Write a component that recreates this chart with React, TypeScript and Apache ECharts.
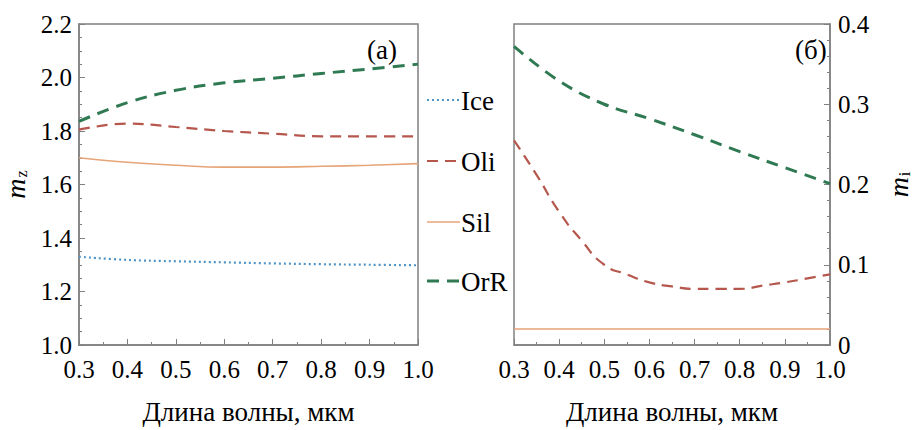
import React, { useEffect, useRef } from "react";
import * as echarts from "echarts";

const wl = [0.3, 0.4, 0.5, 0.6, 0.7, 0.8, 0.9, 1.0];
const wlFine = [0.3, 0.35, 0.4, 0.45, 0.5, 0.55, 0.6, 0.65, 0.7, 0.75, 0.8, 0.85, 0.9, 0.95, 1.0];

// Panel (a): real part m_z
const iceRe = [1.33, 1.318, 1.313, 1.309, 1.305, 1.302, 1.30, 1.298];
const oliRe = [1.805, 1.828, 1.815, 1.80, 1.79, 1.78, 1.78, 1.78];
const silRe = [1.70, 1.683, 1.672, 1.665, 1.665, 1.668, 1.672, 1.678];
const orrRe = [1.836, 1.906, 1.952, 1.98, 1.997, 2.015, 2.032, 2.05];

// Panel (б): imaginary part m_i
const oliIm = [0.255, 0.212, 0.166, 0.13, 0.10, 0.088, 0.078, 0.073, 0.070, 0.070, 0.070, 0.074, 0.078, 0.083, 0.088];
const silIm = [0.02, 0.02, 0.02, 0.02, 0.02, 0.02, 0.02, 0.02];
const orrIm = [0.372, 0.329, 0.30, 0.282, 0.262, 0.241, 0.221, 0.201];

const legendNames = ["Ice", "Oli", "Sil", "OrR"];
const yTicksLeft = { min: 1.0, max: 2.2, interval: 0.2 };
const yTicksRight = { min: 0, max: 0.4, interval: 0.1 };
const xTicks = { min: 0.3, max: 1.0, interval: 0.1 };

const FONT = '"Liberation Serif", "Times New Roman", serif';
const FS = 25;
const FS_BIG = 27;
const C_ICE = "#4f94c8";
const C_OLI = "#b5574c";
const C_SIL = "#e6a477";
const C_ORR = "#2f7a52";
const FRAME = "#808080";

const styles: Record<string, any> = {
  Ice: { color: C_ICE, width: 2.2, dash: [2, 3] },
  Oli: { color: C_OLI, width: 2.2, dash: [11, 7] },
  Sil: { color: C_SIL, width: 1.6, dash: null },
  OrR: { color: C_ORR, width: 3, dash: [12, 8] },
};

const pair = (xs: number[], ys: number[]) => xs.map((x, i) => [x, ys[i]]);

export default function App() {
  const ref = useRef<HTMLDivElement>(null);
  useEffect(() => {
    if (!ref.current) return;
    const chart = echarts.init(ref.current, null, { renderer: "svg" });
    const axisCommon = {
      axisLine: { show: true, onZero: false, lineStyle: { color: FRAME, width: 1.5 } },
      axisTick: { show: true, inside: true, length: 6, lineStyle: { color: FRAME } },
      minorTick: { show: true, length: 3, lineStyle: { color: FRAME } },
      splitLine: { show: false },
      axisLabel: { color: "#000", fontFamily: FONT, fontSize: FS },
    };
    const xAxis = (gi: number) => ({
      type: "value",
      gridIndex: gi,
      ...xTicks,
      ...axisCommon,
      minorTick: { ...axisCommon.minorTick, splitNumber: 2 },
      axisLabel: { ...axisCommon.axisLabel, margin: 12, formatter: (v: number) => v.toFixed(1) },
      name: "Длина волны, мкм",
      nameLocation: "middle",
      nameGap: 53,
      nameTextStyle: { color: "#000", fontFamily: FONT, fontSize: FS_BIG },
    });
    const nameRich = {
      m: { fontFamily: FONT, fontSize: 28, fontStyle: "italic", color: "#000" },
      s: { fontFamily: FONT, fontSize: 16, color: "#000", padding: [12, 0, 0, 1] },
    };
    const lineStyle = (n: string) => {
      const s = styles[n];
      return { color: s.color, width: s.width, type: s.dash || "solid" };
    };
    const legendGraphics: any[] = [];
    const legendY = [100, 161, 222, 281];
    legendNames.forEach((n, i) => {
      const s = styles[n];
      legendGraphics.push({
        type: "line",
        shape: { x1: 427, y1: legendY[i], x2: 460, y2: legendY[i] },
        style: { stroke: s.color, lineWidth: s.width, lineDash: s.dash || null },
      });
      legendGraphics.push({
        type: "text",
        x: 461,
        y: legendY[i] + 1,
        style: { text: n, font: `${FS_BIG}px ${FONT}`, fill: "#000", verticalAlign: "middle", align: "left" },
      });
    });
    const option: any = {
      animation: false,
      grid: [
        { left: 72, top: 24, width: 346, height: 342, show: true, borderColor: FRAME, borderWidth: 1.5 },
        { left: 514, top: 24, width: 333, height: 342, show: true, borderColor: FRAME, borderWidth: 1.5 },
      ],
      xAxis: [xAxis(0), xAxis(1)],
      yAxis: [
        {
          type: "value",
          gridIndex: 0,
          ...yTicksLeft,
          ...axisCommon,
          minorTick: { ...axisCommon.minorTick, splitNumber: 4 },
          axisLabel: { ...axisCommon.axisLabel, margin: 7, formatter: (v: number) => v.toFixed(1) },
          name: "{m|m}{s|z}",
          nameLocation: "middle",
          nameGap: 50,
          nameRotate: 90,
          nameTextStyle: { rich: nameRich },
        },
        {
          type: "value",
          gridIndex: 1,
          position: "right",
          ...yTicksRight,
          ...axisCommon,
          minorTick: { ...axisCommon.minorTick, splitNumber: 5 },
          axisLabel: { ...axisCommon.axisLabel, margin: 8, formatter: (v: number) => (v === 0 ? "0" : v.toFixed(1)) },
          name: "{m|m}{s|i}",
          nameLocation: "middle",
          nameGap: 54,
          nameRotate: 90,
          nameTextStyle: { rich: nameRich },
        },
      ],
      graphic: [
        { type: "text", x: 367, y: 50, style: { text: "(a)", font: `${FS_BIG}px ${FONT}`, fill: "#000", verticalAlign: "middle" } },
        { type: "text", x: 795, y: 50, style: { text: "(б)", font: `${FS_BIG}px ${FONT}`, fill: "#000", verticalAlign: "middle" } },
        ...legendGraphics,
      ],
      series: [
        { name: "Ice", type: "line", xAxisIndex: 0, yAxisIndex: 0, symbol: "none", smooth: 0.4, data: pair(wl, iceRe), lineStyle: lineStyle("Ice") },
        { name: "Oli", type: "line", xAxisIndex: 0, yAxisIndex: 0, symbol: "none", smooth: 0.4, data: pair(wl, oliRe), lineStyle: lineStyle("Oli") },
        { name: "Sil", type: "line", xAxisIndex: 0, yAxisIndex: 0, symbol: "none", smooth: 0.4, data: pair(wl, silRe), lineStyle: lineStyle("Sil") },
        { name: "OrR", type: "line", xAxisIndex: 0, yAxisIndex: 0, symbol: "none", smooth: 0.4, data: pair(wl, orrRe), lineStyle: lineStyle("OrR") },
        { name: "Oli", type: "line", xAxisIndex: 1, yAxisIndex: 1, symbol: "none", smooth: 0.6, data: pair(wlFine, oliIm), lineStyle: lineStyle("Oli") },
        { name: "Sil", type: "line", xAxisIndex: 1, yAxisIndex: 1, symbol: "none", data: pair(wl, silIm), lineStyle: lineStyle("Sil") },
        { name: "OrR", type: "line", xAxisIndex: 1, yAxisIndex: 1, symbol: "none", smooth: 0.4, data: pair(wl, orrIm), lineStyle: lineStyle("OrR") },
      ],
    };
    chart.setOption(option);
    return () => chart.dispose();
  }, []);
  return <div ref={ref} style={{ width: 913, height: 430, position: "absolute", left: 0, top: 0, background: "#fff" }} />;
}
